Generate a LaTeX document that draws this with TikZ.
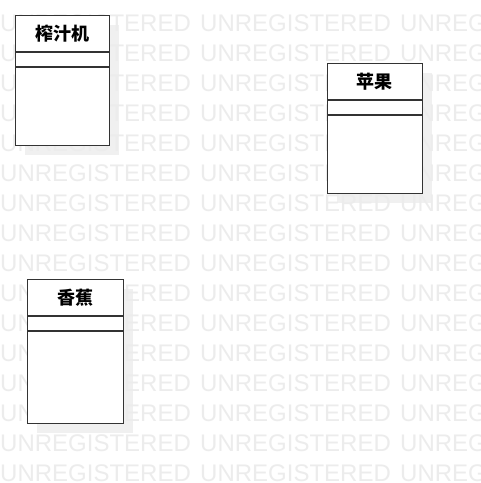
\documentclass[tikz,border=0pt]{standalone}
\usepackage{fontspec}
\setmainfont{Liberation Sans}
\newfontfamily\cjk{Noto Sans CJK SC}
\definecolor{markgray}{HTML}{ECECEC}
\definecolor{shadowgray}{HTML}{F0F0F0}
\definecolor{linegray}{HTML}{333333}
\tikzset{
	watermark/.style={anchor=base west, inner sep=0pt, text=markgray, font=\fontsize{24}{24}\selectfont},
	classbox/.style={draw=linegray, line width=1.3pt, fill=white, anchor=north west, inner sep=0pt},
	classline/.style={draw=linegray, line width=1.3pt},
	classname/.style={font=\cjk\bfseries\fontsize{18}{18}\selectfont, inner sep=0pt},
}
\def\classlist{juicer/15/15/94/130/榨汁机, apple/327/63/95/130/苹果, banana/27/279/96/144/香蕉}
\begin{document}
\begin{tikzpicture}[x=1pt,y=-1pt]
	\useasboundingbox (0,0) rectangle (481,483);
	\fill[white] (0,0) rectangle (481,483);

	% shadows
	\foreach \n/\x/\y/\w/\h/\t in \classlist
		\fill[shadowgray] (\x+10,\y+10) rectangle ++(\w,\h);

	% watermark
	\begin{scope}
	\clip (0,0) rectangle (481,483);
	\foreach \r in {0,...,15}
	\foreach \c in {0,1,2}
		\node[watermark] (mark-\r-\c) at (\c*200,31+\r*30) {UNREGISTERED};
	\end{scope}

	% classes
	\foreach \n/\x/\y/\w/\h/\t in \classlist {
		\node[classbox, minimum width=\w pt, minimum height=\h pt] (\n) at (\x,\y) {};
		\node[classname] (\n-name) at (\x+\w/2,\y+18.5) {\t};
		\draw[classline] (\n.north west) ++(0,37) -- ++(\w,0);
		\draw[classline] (\n.north west) ++(0,52) -- ++(\w,0);
	}
\end{tikzpicture}
\end{document}
